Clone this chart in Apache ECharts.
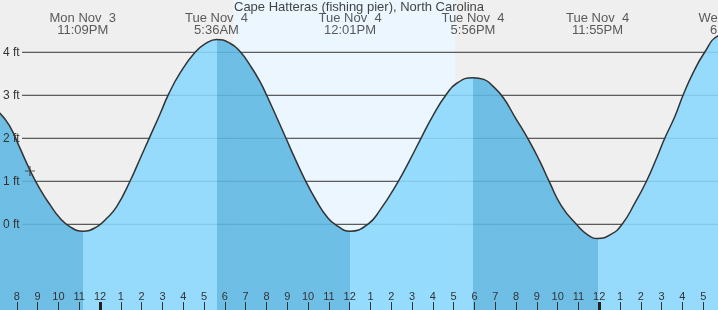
<!DOCTYPE html>
<html><head><meta charset="utf-8">
<script src="https://cdn.jsdelivr.net/npm/echarts@6/dist/echarts.min.js"></script>
<style>html,body{margin:0;padding:0;background:#efefef}#c{width:718px;height:310px}</style>
</head><body><div id="c"></div>
<script>
// All times in hours relative to Tue Nov 4, 00:00
const chartTitle = 'Cape Hatteras (fishing pier), North Carolina';
const xRange = [-4.81, 29.71];
const yRange = [-1.993, 5.216];

// tide extremes (high / low)
const tideTimes   = [-0.83, 5.6, 12.02, 17.93, 23.92, 30.4];
const tideHeights = [-0.16, 4.30, -0.16, 3.41, -0.33, 4.45];
const tideDayLabels  = ['Mon Nov  3', 'Tue Nov  4', 'Tue Nov  4', 'Tue Nov  4', 'Tue Nov  4', 'Wed Nov  5'];
const tideTimeLabels = ['11:09PM', '5:36AM', '12:01PM', '5:56PM', '11:55PM', '6:24AM'];

// tide curve (hour, feet)
const curveHours = [-6.9, -4.81, -4.33, -3.85, -3.37, -2.88, -2.40, -1.92, -1.44, -0.83, -0.16, 0.32, 0.80, 1.44, 1.92, 2.40, 2.88, 3.29, 3.85, 4.57, 5.13, 5.6,
  6.25, 6.73, 7.21, 7.69, 8.01, 8.49, 8.94, 9.38, 9.89, 10.42, 10.90, 11.30, 12.02, 12.87, 13.46, 14.34, 14.90, 15.43, 16.02, 16.62, 17.15, 17.93,
  18.45, 18.85, 19.38, 19.94, 20.61, 21.14, 21.62, 22.18, 22.90, 23.46, 23.92, 24.58, 25.10, 25.71, 26.27, 26.75, 27.15, 27.63, 28.03, 28.50, 29.07, 29.71, 30.4];
const curveFeet  = [3.5, 2.58, 2.27, 1.77, 1.26, 0.81, 0.45, 0.14, -0.06, -0.16, -0.06, 0.14, 0.41, 1.0, 1.52, 2.04, 2.56, 3.02, 3.52, 4.0, 4.22, 4.30,
  4.21, 4.02, 3.70, 3.32, 3.0, 2.49, 2.0, 1.52, 1.0, 0.53, 0.18, 0.0, -0.16, 0.0, 0.33, 1.0, 1.5, 2.0, 2.54, 3.0, 3.28, 3.41,
  3.37, 3.23, 2.95, 2.50, 1.96, 1.47, 0.97, 0.43, 0.0, -0.25, -0.33, -0.23, 0.0, 0.49, 1.0, 1.53, 2.0, 2.50, 3.0, 3.51, 4.0, 4.38, 4.45];
const prevTideHeight = 3.5;

const heightTicks = [0, 1, 2, 3, 4];
const hourTicks = [];
for (let h = -4; h <= 29; h++) hourTicks.push(h);
const midnightTicks = [0, 24];
const daylight = [6.42, 17.07];
const nowPoint = [-3.37, 1.24];

const colRising = '#8ad8fd';
const colFalling = '#5db7e3';
const textColor = '#333';

const curveData = curveHours.map((h, i) => [h, curveFeet[i]]);

// rising / falling pieces
const pieces = [];
const allT = tideTimes, allH = tideHeights;
pieces.push({ lt: allT[0], color: prevTideHeight > allH[0] ? colFalling : colRising });
for (let i = 0; i < allT.length - 1; i++) {
  pieces.push({ gte: allT[i], lt: allT[i + 1], color: allH[i + 1] > allH[i] ? colRising : colFalling });
}
pieces.push({ gte: allT[allT.length - 1], color: colFalling });

const gridStart = xRange[0] + 1.06;

const series = [];
heightTicks.forEach((v, i) => {
  series.push({
    type: 'line', z: 2, silent: true, symbol: 'none',
    data: [[gridStart, v], [xRange[1], v]],
    lineStyle: { color: '#333', width: 1 },
    markArea: i === 0 ? {
      silent: true,
      itemStyle: { color: '#ebf6ff' },
      data: [[{ xAxis: daylight[0] }, { xAxis: daylight[1] }]]
    } : undefined
  });
});
const areaIndex = series.length;
series.push({
  type: 'line', z: 3, silent: true, symbol: 'none', smooth: 0.5,
  data: curveData,
  lineStyle: { width: 0 },
  areaStyle: { opacity: 0.88, origin: 'start' }
});
series.push({
  type: 'line', z: 4, silent: true, symbol: 'none', smooth: 0.5,
  data: curveData,
  lineStyle: { color: '#333', width: 1.5 },
  itemStyle: { color: '#333' }
});
series.push({
  type: 'scatter', z: 5, silent: true, clip: false,
  symbol: 'path://M0,5L10,5M5,0L5,10', symbolSize: 10,
  itemStyle: { color: 'none', borderColor: '#333', borderWidth: 1.2 },
  data: [nowPoint]
});
series.push({
  type: 'scatter', z: 6, silent: true, clip: false, symbolSize: 0,
  data: tideTimes.map((t, i) => [t, yRange[1], i]),
  label: {
    show: true, position: 'bottom', distance: 12,
    fontFamily: 'Liberation Sans', fontSize: 13, color: textColor, lineHeight: 12,
    formatter: p => tideDayLabels[p.data[2]] + '\n' + tideTimeLabels[p.data[2]]
  }
});

const chart = echarts.init(document.getElementById('c'), null, { renderer: 'canvas' });
chart.setOption({
  animation: false,
  backgroundColor: '#efefef',
  title: {
    text: chartTitle, left: 'center', top: 0, padding: [1, 0, 0, 0],
    textStyle: { fontFamily: 'Liberation Sans', fontSize: 13, fontWeight: 'normal', color: '#444' }
  },
  grid: { left: 0, right: 0, top: 0, bottom: 0 },
  xAxis: [{
    type: 'value', min: xRange[0], max: xRange[1], position: 'bottom', z: 10,
    axisLine: { show: false, onZero: false }, splitLine: { show: false },
    axisTick: { show: true, inside: true, length: 8, customValues: hourTicks, lineStyle: { color: '#333', width: 1 } },
    axisLabel: {
      show: true, inside: true, margin: 8, customValues: hourTicks,
      fontFamily: 'Liberation Sans', fontSize: 11, color: textColor,
      formatter: v => { const m = ((Math.round(v) % 12) + 12) % 12; return String(m === 0 ? 12 : m); }
    }
  }, {
    type: 'value', min: xRange[0], max: xRange[1], position: 'bottom', offset: 0, z: 11,
    axisLine: { show: false, onZero: false }, splitLine: { show: false }, axisLabel: { show: false },
    axisTick: { show: true, inside: true, length: 8, customValues: midnightTicks, lineStyle: { color: '#222', width: 3 } }
  }],
  yAxis: {
    type: 'value', min: yRange[0], max: yRange[1], z: 10,
    axisLine: { show: false, onZero: false }, axisTick: { show: false }, splitLine: { show: false },
    axisLabel: {
      show: true, inside: true, margin: 3, customValues: heightTicks,
      fontFamily: 'Liberation Sans', fontSize: 12, color: textColor,
      formatter: v => v + ' ft'
    }
  },
  visualMap: {
    type: 'piecewise', show: false, dimension: 0, seriesIndex: areaIndex, pieces: pieces
  },
  series: series
});
</script></body></html>
